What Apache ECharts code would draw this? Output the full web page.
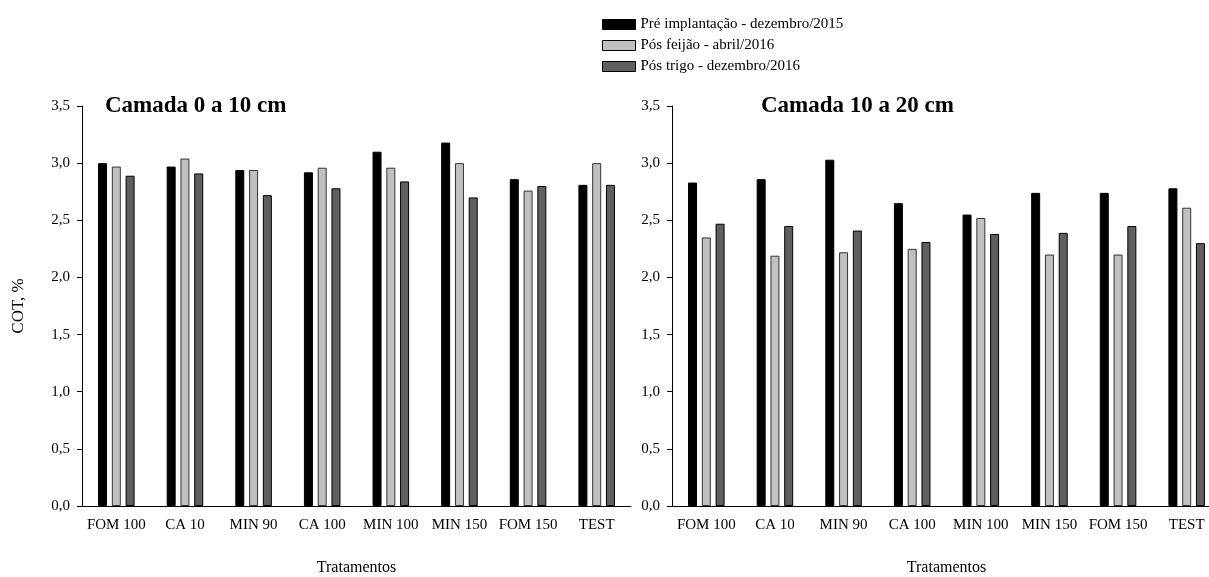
<!DOCTYPE html>
<html lang="pt">
<head>
    <meta charset="UTF-8">
    <title>COT por tratamento</title>
    <script src="https://cdn.jsdelivr.net/npm/echarts@6/dist/echarts.min.js"></script>
    <style>
        html, body { margin: 0; padding: 0; background: #fff; }
        #main { width: 1209px; height: 577px; }
    </style>
</head>
<body>
    <div id="main"></div>
    <script type="text/javascript">
        // tratamentos (eixo x)
        var tratamentos = ['FOM 100', 'CA 10', 'MIN 90', 'CA 100', 'MIN 100', 'MIN 150', 'FOM 150', 'TEST'];
        var nomesSeries = ['Pré implantação - dezembro/2015', 'Pós feijão - abril/2016', 'Pós trigo - dezembro/2016'];
        var yTicks = [0, 0.5, 1.0, 1.5, 2.0, 2.5, 3.0, 3.5];

        // camada 0 a 10 cm
        var pre0a10 = [3.00, 2.97, 2.94, 2.92, 3.10, 3.18, 2.86, 2.81];
        var feijao0a10 = [2.97, 3.04, 2.94, 2.96, 2.96, 3.00, 2.76, 3.00];
        var trigo0a10 = [2.89, 2.91, 2.72, 2.78, 2.84, 2.70, 2.80, 2.81];

        // camada 10 a 20 cm
        var pre10a20 = [2.83, 2.86, 3.03, 2.65, 2.55, 2.74, 2.74, 2.78];
        var feijao10a20 = [2.35, 2.19, 2.22, 2.25, 2.52, 2.20, 2.20, 2.61];
        var trigo10a20 = [2.47, 2.45, 2.41, 2.31, 2.38, 2.39, 2.45, 2.30];

        var fonte = 'Liberation Serif, Times New Roman, serif';
        var cores = ['#000000', '#c0c0c0', '#5f5f5f'];

        function eixoX(idx) {
            return {
                type: 'category',
                gridIndex: idx,
                data: tratamentos,
                name: 'Tratamentos',
                nameLocation: 'middle',
                nameGap: 54,
                nameTextStyle: { fontFamily: fonte, fontSize: 16, color: '#000' },
                axisLine: { lineStyle: { color: '#000', width: 1 } },
                axisTick: { alignWithLabel: true, length: 5, lineStyle: { color: '#000' } },
                axisLabel: { fontFamily: fonte, fontSize: 15, color: '#000', margin: 12, interval: 0 },
                splitLine: { show: false }
            };
        }

        function eixoY(idx, nome) {
            return {
                type: 'value',
                gridIndex: idx,
                min: yTicks[0],
                max: yTicks[yTicks.length - 1],
                interval: 0.5,
                name: nome,
                nameLocation: 'middle',
                nameGap: 55,
                nameTextStyle: { fontFamily: fonte, fontSize: 17, color: '#000' },
                axisLine: { show: true, lineStyle: { color: '#000', width: 1 } },
                axisTick: { show: true, length: 5, lineStyle: { color: '#000' } },
                axisLabel: {
                    fontFamily: fonte, fontSize: 15, color: '#000', margin: 12,
                    formatter: function (v) { return v.toFixed(1).replace('.', ','); }
                },
                splitLine: { show: false }
            };
        }

        function serie(nome, dados, cor, idx) {
            return {
                name: nome,
                type: 'bar',
                xAxisIndex: idx,
                yAxisIndex: idx,
                data: dados,
                barWidth: 9,
                barGap: '53%',
                itemStyle: { color: cor, borderColor: cor === '#c0c0c0' ? '#333' : '#000', borderWidth: 1 },
                animation: false
            };
        }

        var myChart = echarts.init(document.getElementById('main'));
        var option = {
            animation: false,
            textStyle: { fontFamily: fonte },
            title: [
                { text: 'Camada 0 a 10 cm', left: 100, top: 90,
                  textStyle: { fontFamily: fonte, fontSize: 23, fontWeight: 'bold', color: '#000' } },
                { text: 'Camada 10 a 20 cm', left: 756, top: 90,
                  textStyle: { fontFamily: fonte, fontSize: 23, fontWeight: 'bold', color: '#000' } }
            ],
            legend: {
                data: nomesSeries,
                orient: 'vertical',
                left: 597,
                top: 12,
                icon: 'rect',
                itemWidth: 33,
                itemHeight: 10,
                itemGap: 6,
                textStyle: { fontFamily: fonte, fontSize: 15, color: '#000' },
                itemStyle: { borderColor: '#000', borderWidth: 1 }
            },
            grid: [
                { left: 82, top: 106, width: 549, height: 400, outerBoundsMode: 'none' },
                { left: 672, top: 106, width: 549, height: 400, outerBoundsMode: 'none' }
            ],
            xAxis: [eixoX(0), eixoX(1)],
            yAxis: [eixoY(0, 'COT, %'), eixoY(1, '')],
            series: [
                serie(nomesSeries[0], pre0a10, cores[0], 0),
                serie(nomesSeries[1], feijao0a10, cores[1], 0),
                serie(nomesSeries[2], trigo0a10, cores[2], 0),
                serie(nomesSeries[0], pre10a20, cores[0], 1),
                serie(nomesSeries[1], feijao10a20, cores[1], 1),
                serie(nomesSeries[2], trigo10a20, cores[2], 1)
            ]
        };
        myChart.setOption(option);
    </script>
</body>
</html>
